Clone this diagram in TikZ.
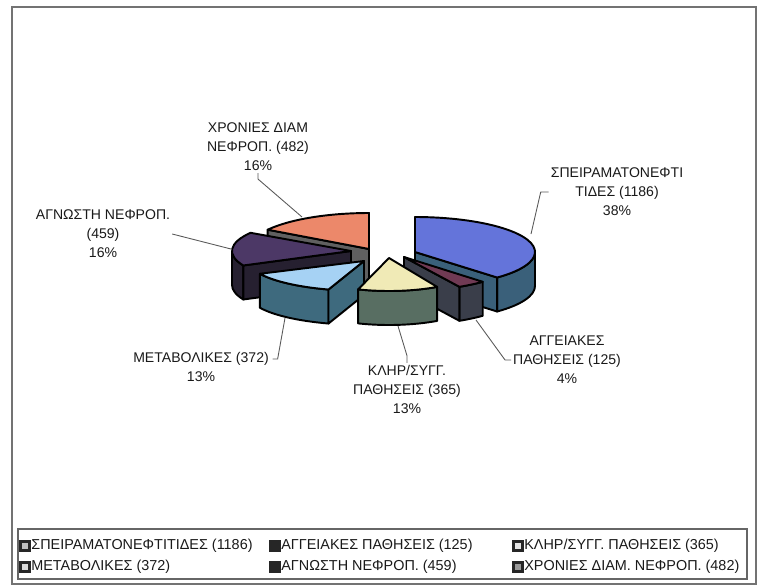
\documentclass[tikz,border=0pt]{standalone}
\usepackage{fontspec}
\setmainfont{Liberation Sans}
\usepackage{tikz}
\definecolor{gltop}{RGB}{100,116,218}
\definecolor{glside}{RGB}{58,96,122}
\definecolor{vatop}{RGB}{112,58,84}
\definecolor{vaside}{RGB}{58,62,74}
\definecolor{hetop}{RGB}{240,234,182}
\definecolor{heside}{RGB}{88,110,98}
\definecolor{metop}{RGB}{166,210,244}
\definecolor{meside}{RGB}{62,106,126}
\definecolor{untop}{RGB}{76,56,102}
\definecolor{unside}{RGB}{38,32,48}
\definecolor{chtop}{RGB}{236,136,106}
\definecolor{chside}{RGB}{96,96,96}

% faces of one exploded slice: apex x, apex y (pixels, downwards), angles, colour
\newcommand{\slicetop}[5]{%
  \draw[pie, fill=#5] (#1,-#2) -- ++({\prx*cos(#3)},{\pry*sin(#3)})
    arc[start angle=#3, end angle=#4, x radius=\prx, y radius=\pry] -- cycle;}
\newcommand{\sliceside}[5]{%
  \draw[pie, fill=#5] ({#1+\prx*cos(#3)},{-#2+\pry*sin(#3)})
    arc[start angle=#3, end angle=#4, x radius=\prx, y radius=\pry] -- ++(0,-\pdep)
    arc[start angle=#4, end angle=#3, x radius=\prx, y radius=\pry] -- cycle;}
\newcommand{\slicecut}[4]{%
  \draw[pie, fill=#4] (#1,-#2) -- ++({\prx*cos(#3)},{\pry*sin(#3)}) -- ++(0,-\pdep)
    -- (#1,{-#2-\pdep}) -- cycle;}

\begin{document}
\begin{tikzpicture}[x=0.02cm, y=0.02cm,
    pie/.style={draw=black, line width=1.1pt, line join=round},
    lbl/.style={align=center, inner sep=1pt, text=black!90, font=\fontsize{8}{10.8}\selectfont},
    leader/.style={draw=black!65, line width=0.5pt},
    keybox/.style={draw=black!85, line width=1.3pt, minimum size=5pt, inner sep=0pt},
    legtext/.style={anchor=west, inner sep=0pt, text=black!90, font=\fontsize{8.2}{10}\selectfont}]
  \useasboundingbox (0,0) rectangle (763,-585);
  \draw[black!55, line width=0.8pt] (12,-7) rectangle (756,-584);

  \def\pdep{34}
  % chronic
  \def\prx{120}\def\pry{36}
  \slicecut{369}{249}{147.6}{chside}
  \slicetop{369}{249}{90}{147.6}{chtop}
  % glomerulonephritis
  \def\prx{120}\def\pry{35}
  \sliceside{415}{252}{-46.8}{0}{glside}
  \slicecut{415}{252}{-46.8}{glside}
  \slicetop{415}{252}{-46.8}{90}{gltop}
  % unknown
  \def\prx{119}\def\pry{34}
  \sliceside{351}{251}{180}{205.2}{unside}
  \slicecut{351}{251}{205.2}{unside}
  \slicetop{351}{251}{147.6}{205.2}{untop}
  % metabolic
  \def\prx{115}\def\pry{30}
  \sliceside{364}{261}{-154.8}{-108}{meside}
  \slicecut{364}{261}{-108}{meside}
  \slicetop{364}{261}{-154.8}{-108}{metop}
  % vascular
  \def\prx{115}\def\pry{34}
  \sliceside{404}{257}{-61.2}{-46.8}{vaside}
  \slicecut{404}{257}{-61.2}{vaside}
  \slicetop{404}{257}{-61.2}{-46.8}{vatop}
  % hereditary
  \def\prx{100}\def\pry{33}
  \sliceside{389}{258}{-108}{-61.2}{heside}
  \slicetop{389}{258}{-108}{-61.2}{hetop}

  % labels
  \node[lbl] (chr) at (258,-147) {ΧΡΟΝΙΕΣ ΔΙΑΜ\\ΝΕΦΡΟΠ. (482)\\16\%};
  \node[lbl] (glo) at (617,-192) {ΣΠΕΙΡΑΜΑΤΟΝΕΦΤΙ\\ΤΙΔΕΣ (1186)\\38\%};
  \node[lbl] (vas) at (567,-360) {ΑΓΓΕΙΑΚΕΣ\\ΠΑΘΗΣΕΙΣ (125)\\4\%};
  \node[lbl] (her) at (407,-389) {ΚΛΗΡ/ΣΥΓΓ.\\ΠΑΘΗΣΕΙΣ (365)\\13\%};
  \node[lbl] (met) at (201,-367) {ΜΕΤΑΒΟΛΙΚΕΣ (372)\\13\%};
  \node[lbl] (unk) at (103,-234) {ΑΓΝΩΣΤΗ ΝΕΦΡΟΠ.\\(459)\\16\%};

  \coordinate (chrE) at (302,-217);
  \coordinate (gloE) at (531,-234);
  \coordinate (vasE) at (476,-320);
  \coordinate (herE) at (398,-326);
  \coordinate (metE) at (285,-318);
  \coordinate (unkE) at (231,-249);
  \draw[leader] (chr.south) -- ++(0,-6) -- (chrE);
  \draw[leader] (glo.west) -- ++(-8,0) -- (gloE);
  \draw[leader] (vas.west) -- ++(-6,0) -- (vasE);
  \draw[leader] (her.north) -- ++(0,7) -- (herE);
  \draw[leader] ([xshift=1pt,yshift=-5pt]met.north east) -- ++(5,0) -- (metE);
  \draw[leader] (unk.east) -- (unkE);

  % legend
  \draw[black!60, line width=0.6pt] (18,-529) rectangle (747,-579);
  \node[keybox, fill=black!25] (k1) at (25,-546) {};
  \node[legtext] (t1) at (31,-546) {ΣΠΕΙΡΑΜΑΤΟΝΕΦΤΙΤΙΔΕΣ (1186)};
  \node[keybox, fill=black!85] (k2) at (275,-546) {};
  \node[legtext] (t2) at (281,-546) {ΑΓΓΕΙΑΚΕΣ ΠΑΘΗΣΕΙΣ (125)};
  \node[keybox, fill=black!10] (k3) at (518,-546) {};
  \node[legtext] (t3) at (524,-546) {ΚΛΗΡ/ΣΥΓΓ. ΠΑΘΗΣΕΙΣ (365)};
  \node[keybox, fill=black!15] (k4) at (25,-567) {};
  \node[legtext] (t4) at (31,-567) {ΜΕΤΑΒΟΛΙΚΕΣ (372)};
  \node[keybox, fill=black!85] (k5) at (275,-567) {};
  \node[legtext] (t5) at (281,-567) {ΑΓΝΩΣΤΗ ΝΕΦΡΟΠ. (459)};
  \node[keybox, fill=black!40] (k6) at (518,-567) {};
  \node[legtext] (t6) at (524,-567) {ΧΡΟΝΙΕΣ ΔΙΑΜ. ΝΕΦΡΟΠ. (482)};
\end{tikzpicture}
\end{document}
